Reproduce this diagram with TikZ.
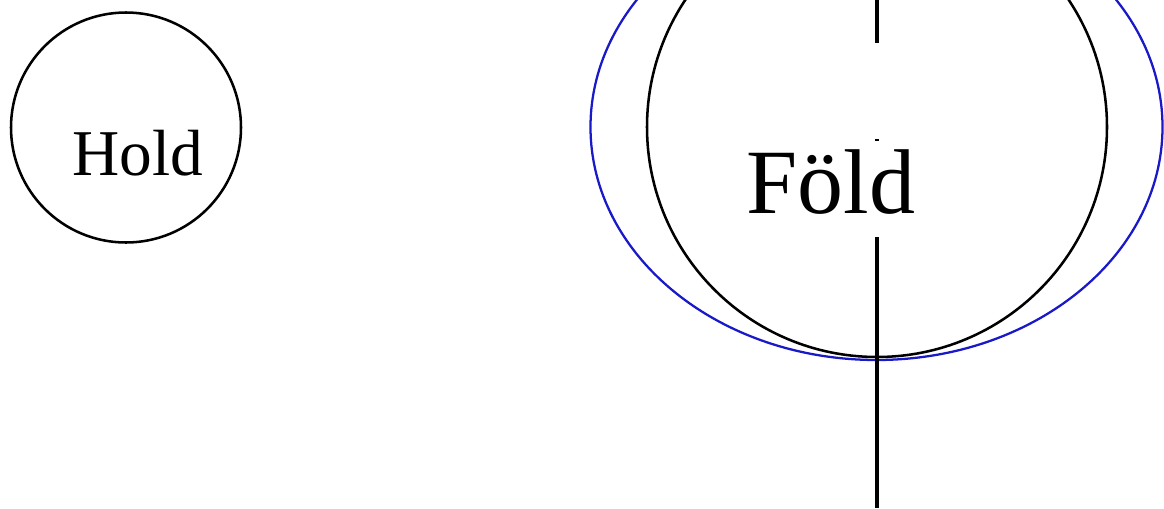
\documentclass[tikz,border=0pt]{standalone}
\usepackage{fontspec}
\setmainfont{Liberation Serif}
\usetikzlibrary{
    positioning,
    calc,
    shapes.geometric
}
\definecolor{orbitblue}{RGB}{25,25,200}
\tikzset{
    planet/.style={
        draw,
        circle,
        line width=1.9pt,
        inner sep=0pt
    }
}
\tikzset{
    orbit/.style={
        draw=orbitblue,
        ellipse,
        line width=1.7pt,
        inner sep=0pt
    }
}
\tikzset{
    planetname/.style={
        anchor=base,
        inner sep=0pt
    }
}
\tikzset{
    axisline/.style={
        draw,
        line width=2.4pt,
        dash pattern=on 32.25pt off 72pt on 1.5pt off 72pt on 220pt off 0pt
    }
}

\begin{document}
\begin{tikzpicture}[
    x=0.75pt,
    y=-0.75pt
]
\useasboundingbox (0,0) rectangle (1164,508);
\clip (0,0) rectangle (1164,508);

% ------------------------------------------------------------
% Hold
% ------------------------------------------------------------

\node[planet, minimum size=172.5pt] (hold) at (126,127.5) {};
\node[planetname, font=\fontsize{49}{58}\selectfont] (holdname) at (137.5,175) {Hold};

% ------------------------------------------------------------
% Föld with its blue ellipse and axis
% ------------------------------------------------------------

\node[orbit, minimum width=429pt, minimum height=349.5pt] (foldorbit) at (876.5,127) {};
\node[planet, minimum size=345pt] (fold) at (877,127) {};
\node[planetname, font=\fontsize{69}{82}\selectfont] (foldname) at (831,213) {Föld};

\coordinate (axistop) at (877,0);
\coordinate (axisbottom) at (877,508);
\draw[axisline] (axistop) -- (axisbottom);

\end{tikzpicture}
\end{document}
